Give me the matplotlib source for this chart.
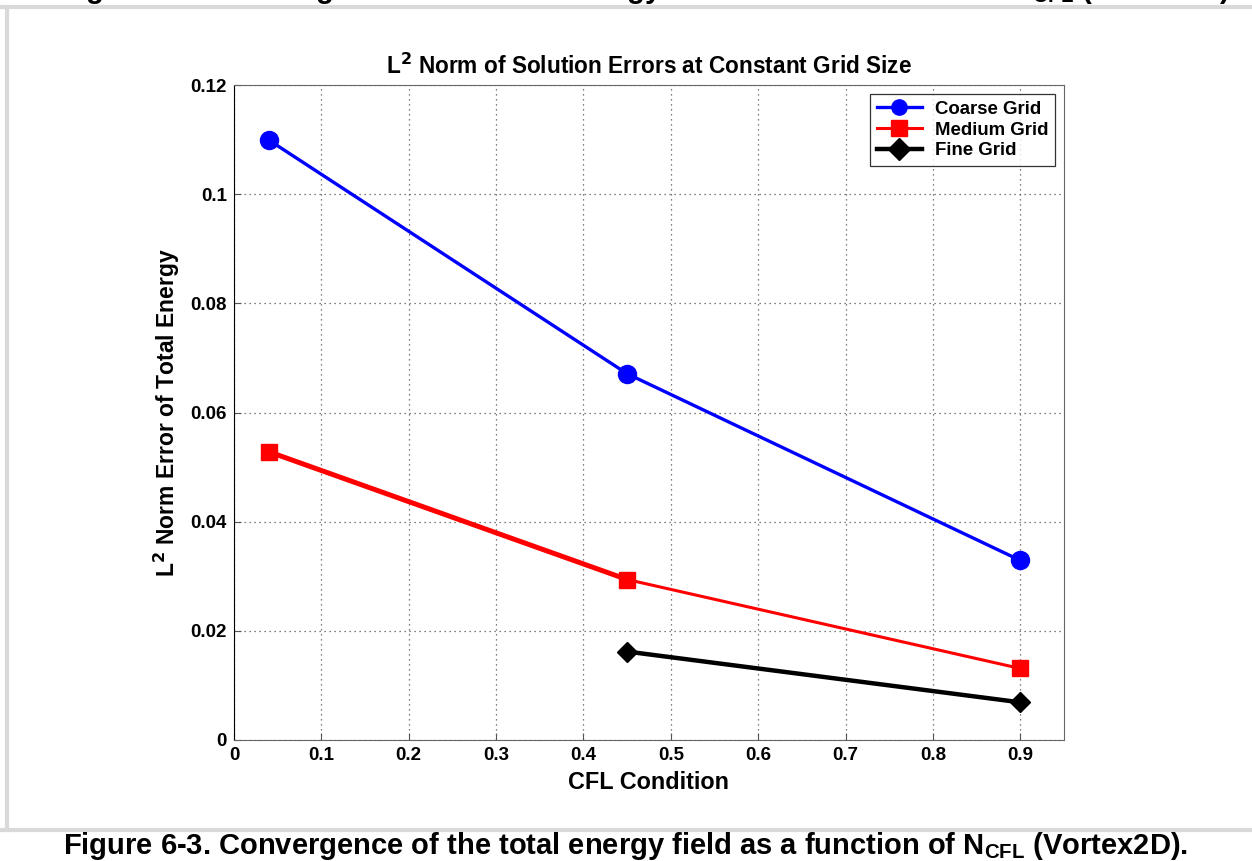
import matplotlib.pyplot as plt
import matplotlib.lines as mlines

plt.rcParams['font.family'] = ['Liberation Sans', 'DejaVu Sans']
plt.rcParams['font.weight'] = 'bold'
plt.rcParams['mathtext.default'] = 'bf'

# L2 norm of total energy error vs CFL number
cfl_coarse = [0.04, 0.45, 0.9]
err_coarse = [0.1099, 0.0671, 0.0329]
cfl_medium = [0.04, 0.45, 0.9]
err_medium = [0.0528, 0.0294, 0.0131]
cfl_fine = [0.45, 0.9]
err_fine = [0.0162, 0.0069]

x_ticks = [0, 0.1, 0.2, 0.3, 0.4, 0.5, 0.6, 0.7, 0.8, 0.9]
x_tick_labels = ['0', '0.1', '0.2', '0.3', '0.4', '0.5', '0.6', '0.7', '0.8', '0.9']
y_ticks = [0, 0.02, 0.04, 0.06, 0.08, 0.1, 0.12]
y_tick_labels = ['0', '0.02', '0.04', '0.06', '0.08', '0.1', '0.12']

W, H = 1252, 861
fig = plt.figure(figsize=(W / 100, H / 100), dpi=100)
ax = fig.add_axes([234 / W, 1 - 740 / H, (1064 - 234) / W, (740 - 85) / H])

ax.plot(cfl_coarse, err_coarse, '-o', color='#0000ff', lw=2.4, ms=13, label='Coarse Grid')
# first medium segment was plotted twice, so it reads heavier
ax.plot(cfl_medium[:2], err_medium[:2], '-', color='#ff0000', lw=3.6)
ax.plot(cfl_medium, err_medium, '-s', color='#ff0000', lw=2.2, ms=11, label='Medium Grid')
ax.plot(cfl_fine, err_fine, '-D', color='black', lw=3.2, ms=10, label='Fine Grid')

ax.set_xlim(0, 0.95)
ax.set_ylim(0, 0.12)
ax.set_xticks(x_ticks)
ax.set_xticklabels(x_tick_labels)
ax.set_yticks(y_ticks)
ax.set_yticklabels(y_tick_labels)
ax.tick_params(direction='in', labelsize=13.5, length=5, color='#555555', pad=5)
ax.grid(True, linestyle=(0, (1, 3)), color='#555555', lw=0.9)
for side in ['top', 'right', 'bottom']:
    ax.spines[side].set_color('#666666')
ax.spines['left'].set_color('black')

ax.set_title('L$^2$ Norm of Solution Errors at Constant Grid Size', fontsize=16.3,
             fontweight='bold', pad=8)
ax.set_xlabel('CFL Condition', fontsize=16.8, fontweight='bold', labelpad=5)
ax.set_ylabel('L$^2$ Norm Error of Total Energy', fontsize=16.5, fontweight='bold', labelpad=6)

leg = ax.legend(loc='upper right', fontsize=13.4, frameon=True, fancybox=False,
                edgecolor='black', borderaxespad=0.5, handlelength=2.4,
                labelspacing=0.2, borderpad=0.35, handletextpad=0.7)
leg.get_frame().set_linewidth(0.9)
for h in leg.legend_handles:
    h.set_markersize(11)

# page frame lines
fig.add_artist(mlines.Line2D([0, 1], [1 - 7 / H, 1 - 7 / H], color='#d9d9d9', lw=3))
fig.add_artist(mlines.Line2D([0, 1], [1 - 830 / H, 1 - 830 / H], color='#d9d9d9', lw=3))
fig.add_artist(mlines.Line2D([7 / W, 7 / W], [1 - 830 / H, 1 - 7 / H], color='#d9d9d9', lw=3))

# previous figure caption, only its lowest strip lies on this page
fig.text(60 / W, 1 + 2 / H,
         'Figure 6-2. Convergence of the total energy residual as a function of N$_{\\mathregular{CFL}}$ (Vortex2D)',
         fontsize=21, fontweight='bold', va='baseline', ha='left')

fig.text(0.5, 1 - 846 / H,
         'Figure 6-3. Convergence of the total energy field as a function of N$_{\\mathregular{CFL}}$ (Vortex2D).',
         fontsize=21, fontweight='bold', va='center', ha='center')

fig.savefig('out.png', dpi=100)
